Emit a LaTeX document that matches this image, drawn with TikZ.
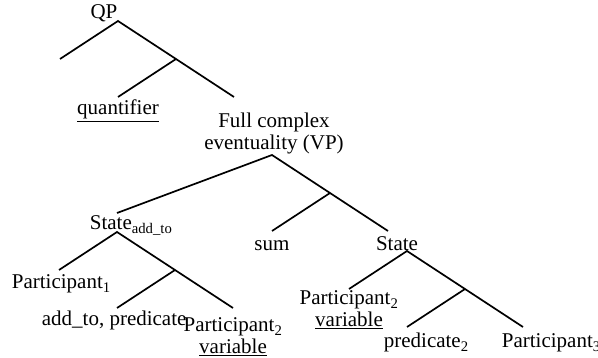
\documentclass[tikz,border=0pt]{standalone}
\usepackage{fontspec}
\setmainfont{Liberation Serif}

\begin{document}
\begin{tikzpicture}[x=1pt, y=-1pt, line width=1.7pt,
    font=\fontsize{21}{22}\selectfont,
    lbl/.style={inner sep=0pt, anchor=base}]
  \useasboundingbox (0,0) rectangle (598,358);
  % the three small branchings have the same shape
  \foreach \t/\x/\y in {qp/118/21, sl/117/232, sr/407/251} {
    \coordinate (\t-top) at (\x,\y);
    \coordinate (\t-left) at (\x-58,\y+38);
    \coordinate (\t-mid) at (\x+58,\y+38);
    \coordinate (\t-low) at (\x,\y+76);
    \coordinate (\t-right) at (\x+116,\y+76);
    \draw (\t-left) -- (\t-top) -- (\t-right);
    \draw (\t-mid) -- (\t-low);
  }
  % the VP branching is flatter on its left
  \coordinate (vp-top) at (272,155);
  \coordinate (vp-left) at (117,213);
  \coordinate (vp-mid) at (330,193);
  \coordinate (vp-low) at (272,231);
  \coordinate (vp-right) at (388,231);
  \draw (vp-left) -- (vp-top) -- (vp-right);
  \draw (vp-mid) -- (vp-low);

  % two-line labels sit on the baseline of their last line
  \node[lbl] (qp) at (104,19) {QP};
  \node[lbl] (quant) at (118,115) {\underline{quantifier}};
  \node[lbl, align=center] (vp) at (274,150) {Full complex\\eventuality (VP)};
  \node[lbl, anchor=base west] (stl) at (89,230) {State\textsubscript{add\_to}};
  \node[lbl] (sum) at (272,251) {sum};
  \node[lbl] (str) at (397,251) {State};
  \node[lbl, anchor=base west] (p1) at (11,289) {Participant\textsubscript{1}};
  \node[lbl, anchor=base west] (pred1) at (41,326) {add\_to, predicate};
  \node[lbl, align=center] (p2l) at (233,354)
    {Participant\textsubscript{2}\\\underline{variable}};
  \node[lbl, align=center] (p2r) at (349,327)
    {Participant\textsubscript{2}\\\underline{variable}};
  \node[lbl, anchor=base west] (pred2) at (383,348) {predicate\textsubscript{2}};
  \node[lbl, anchor=base west] (p3) at (501,348) {Participant\textsubscript{3}};
\end{tikzpicture}
\end{document}
